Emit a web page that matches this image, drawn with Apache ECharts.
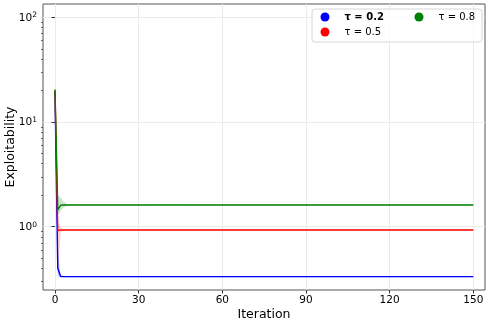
<!DOCTYPE html>
<html>
<head>
<meta charset="utf-8">
<script src="https://cdn.jsdelivr.net/npm/echarts@6/dist/echarts.min.js"></script>
<style>
html, body { margin: 0; padding: 0; background: #fff; }
#chart { width: 489px; height: 324px; }
</style>
</head>
<body>
<div id="chart"></div>
<script>
// iterations (lines are flat after the first few steps)
var iters = [0, 1, 2, 3, 4, 5, 6, 8, 10, 20, 30, 35, 40, 45, 50, 60, 70, 80, 90, 100, 110, 120, 130, 140, 150];

var tau02Mean = [19.5, 0.40, 0.335, 0.333, 0.333, 0.333, 0.333, 0.333, 0.333, 0.333, 0.333, 0.333, 0.333, 0.333, 0.333, 0.333, 0.333, 0.333, 0.333, 0.333, 0.333, 0.333, 0.333, 0.333, 0.333];
var tau02Low  = [17.5, 0.34, 0.325, 0.328, 0.328, 0.328, 0.328, 0.328, 0.328, 0.328, 0.328, 0.328, 0.328, 0.328, 0.328, 0.328, 0.328, 0.328, 0.328, 0.328, 0.328, 0.328, 0.328, 0.328, 0.328];
var tau02High = [21.5, 0.60, 0.345, 0.338, 0.338, 0.338, 0.338, 0.338, 0.338, 0.338, 0.338, 0.338, 0.338, 0.338, 0.338, 0.338, 0.338, 0.338, 0.338, 0.338, 0.338, 0.338, 0.338, 0.338, 0.338];

var tau05Mean = [20.0, 0.92, 0.93, 0.93, 0.93, 0.93, 0.93, 0.93, 0.93, 0.93, 0.93, 0.93, 0.93, 0.93, 0.93, 0.93, 0.93, 0.93, 0.93, 0.93, 0.93, 0.93, 0.93, 0.93, 0.93];
var tau05Low  = [18.0, 0.31, 0.89, 0.92, 0.92, 0.92, 0.92, 0.92, 0.92, 0.92, 0.92, 0.92, 0.92, 0.92, 0.92, 0.92, 0.92, 0.92, 0.92, 0.92, 0.92, 0.92, 0.92, 0.92, 0.92];
var tau05High = [22.0, 1.12, 0.98, 0.94, 0.94, 0.94, 0.94, 0.94, 0.94, 0.94, 0.94, 0.94, 0.94, 0.94, 0.94, 0.94, 0.94, 0.94, 0.94, 0.94, 0.94, 0.94, 0.94, 0.94, 0.94];

var tau08Mean = [20.5, 1.45, 1.60, 1.61, 1.61, 1.61, 1.61, 1.61, 1.61, 1.61, 1.61, 1.61, 1.61, 1.61, 1.61, 1.61, 1.61, 1.61, 1.61, 1.61, 1.61, 1.61, 1.61, 1.61, 1.61];
var tau08Low  = [17.0, 1.30, 1.40, 1.52, 1.57, 1.59, 1.60, 1.60, 1.60, 1.60, 1.60, 1.60, 1.60, 1.60, 1.60, 1.60, 1.60, 1.60, 1.60, 1.60, 1.60, 1.60, 1.60, 1.60, 1.60];
var tau08High = [23.0, 2.00, 1.90, 1.75, 1.67, 1.64, 1.63, 1.625, 1.625, 1.625, 1.625, 1.645, 1.65, 1.645, 1.625, 1.625, 1.625, 1.625, 1.625, 1.625, 1.625, 1.625, 1.625, 1.625, 1.625];

var xTicks = [0, 30, 60, 90, 120, 150];
var yMajor = [1, 10, 100];
var yMinor = [0.3, 0.4, 0.5, 0.6, 0.7, 0.8, 0.9, 2, 3, 4, 5, 6, 7, 8, 9, 20, 30, 40, 50, 60, 70, 80, 90];

var FONT = 'DejaVu Sans';

function pts(vals) {
  return iters.map(function (x, i) { return [x, vals[i]]; });
}

// shaded band drawn as one polygon through the axis scales
function band(key, lo, hi, color) {
  var rows = iters.map(function (x, i) { return [x, lo[i], hi[i]]; });
  return {
    name: key, type: 'custom', data: rows, z: 1, silent: true,
    encode: { x: 0, y: [1, 2] },
    renderItem: function (params, api) {
      if (params.dataIndex !== 0) return;
      var top = [], bottom = [];
      for (var i = 0; i < rows.length; i++) {
        top.push(api.coord([rows[i][0], rows[i][2]]));
        bottom.push(api.coord([rows[i][0], rows[i][1]]));
      }
      return {
        type: 'polygon',
        shape: { points: top.concat(bottom.reverse()) },
        style: { fill: color, opacity: 0.2 }
      };
    }
  };
}

function meanLine(name, vals, color) {
  return {
    name: name, type: 'line', data: pts(vals), symbol: 'none',
    lineStyle: { color: color, width: 1.4 }, itemStyle: { color: color }, z: 3
  };
}

var chart = echarts.init(document.getElementById('chart'));

var legendBase = {
  orient: 'horizontal', padding: 0, icon: 'circle',
  itemWidth: 9, itemHeight: 9, selectedMode: false,
  textStyle: { fontFamily: FONT, fontSize: 10, color: '#000', lineHeight: 12, padding: [0, 0, 0, 10] }
};

var option = {
  backgroundColor: '#fff',
  animation: false,
  grid: {
    left: 43, top: 4, right: 4, bottom: 34, containLabel: false, outerBoundsMode: 'none',
    show: true, borderColor: '#555', borderWidth: 1
  },
  graphic: [{
    type: 'rect', z: 3,
    shape: { x: 312, y: 9, width: 170, height: 33, r: 3 },
    style: { fill: 'rgba(255,255,255,0.8)', stroke: '#d6d6d6', lineWidth: 1 }
  }],
  legend: [
    Object.assign({}, legendBase, {
      left: 320.5, top: 11,
      data: [{ name: 'τ = 0.2', textStyle: { fontWeight: 'bold' } }]
    }),
    Object.assign({}, legendBase, { left: 414.5, top: 11, data: ['τ = 0.8'] }),
    Object.assign({}, legendBase, { left: 320.5, top: 26, data: ['τ = 0.5'] })
  ],
  xAxis: {
    type: 'value', min: -4.3, max: 154.2,
    name: 'Iteration', nameLocation: 'middle', nameGap: 18, nameMoveOverlap: false,
    nameTextStyle: { fontFamily: FONT, fontSize: 12.5, color: '#000' },
    axisLine: { show: false },
    axisTick: { show: true, length: 3.5, customValues: xTicks, lineStyle: { color: '#333' } },
    axisLabel: { customValues: xTicks, fontFamily: FONT, fontSize: 10.5, color: '#000', margin: 5 },
    splitLine: { show: true, lineStyle: { color: '#ebebeb', width: 1 } }
  },
  yAxis: [
    {
      type: 'log', min: 0.248, max: 134.6, logBase: 10, position: 'left',
      name: 'Exploitability', nameLocation: 'middle', nameGap: 26, nameMoveOverlap: false,
      nameTextStyle: { fontFamily: FONT, fontSize: 12.5, color: '#000' },
      axisLine: { show: false },
      axisTick: { show: true, length: 3.5, customValues: yMajor, lineStyle: { color: '#333' } },
      axisLabel: {
        customValues: yMajor, margin: 6,
        formatter: function (v) {
          var e = Math.round(Math.log(v) / Math.LN10);
          return '{b|10}{s|' + e + '}';
        },
        rich: {
          b: { fontFamily: FONT, fontSize: 10.5, color: '#000', lineHeight: 12, verticalAlign: 'bottom' },
          s: { fontFamily: FONT, fontSize: 7.5, color: '#000', lineHeight: 7, verticalAlign: 'top' }
        }
      },
      splitLine: { show: true, lineStyle: { color: '#ebebeb', width: 1 } }
    },
    {
      type: 'log', min: 0.248, max: 134.6, logBase: 10, position: 'left',
      axisLine: { show: false },
      axisTick: { show: true, length: 2, customValues: yMinor, lineStyle: { color: '#444', width: 0.8 } },
      axisLabel: { show: false },
      splitLine: { show: false }
    }
  ],
  series: [
    band('b02', tau02Low, tau02High, '#0000ff'),
    band('b05', tau05Low, tau05High, '#ff0000'),
    band('b08', tau08Low, tau08High, '#008000'),
    meanLine('τ = 0.2', tau02Mean, '#0000ff'),
    meanLine('τ = 0.5', tau05Mean, '#ff0000'),
    meanLine('τ = 0.8', tau08Mean, '#008000')
  ]
};

chart.setOption(option);
</script>
</body>
</html>
